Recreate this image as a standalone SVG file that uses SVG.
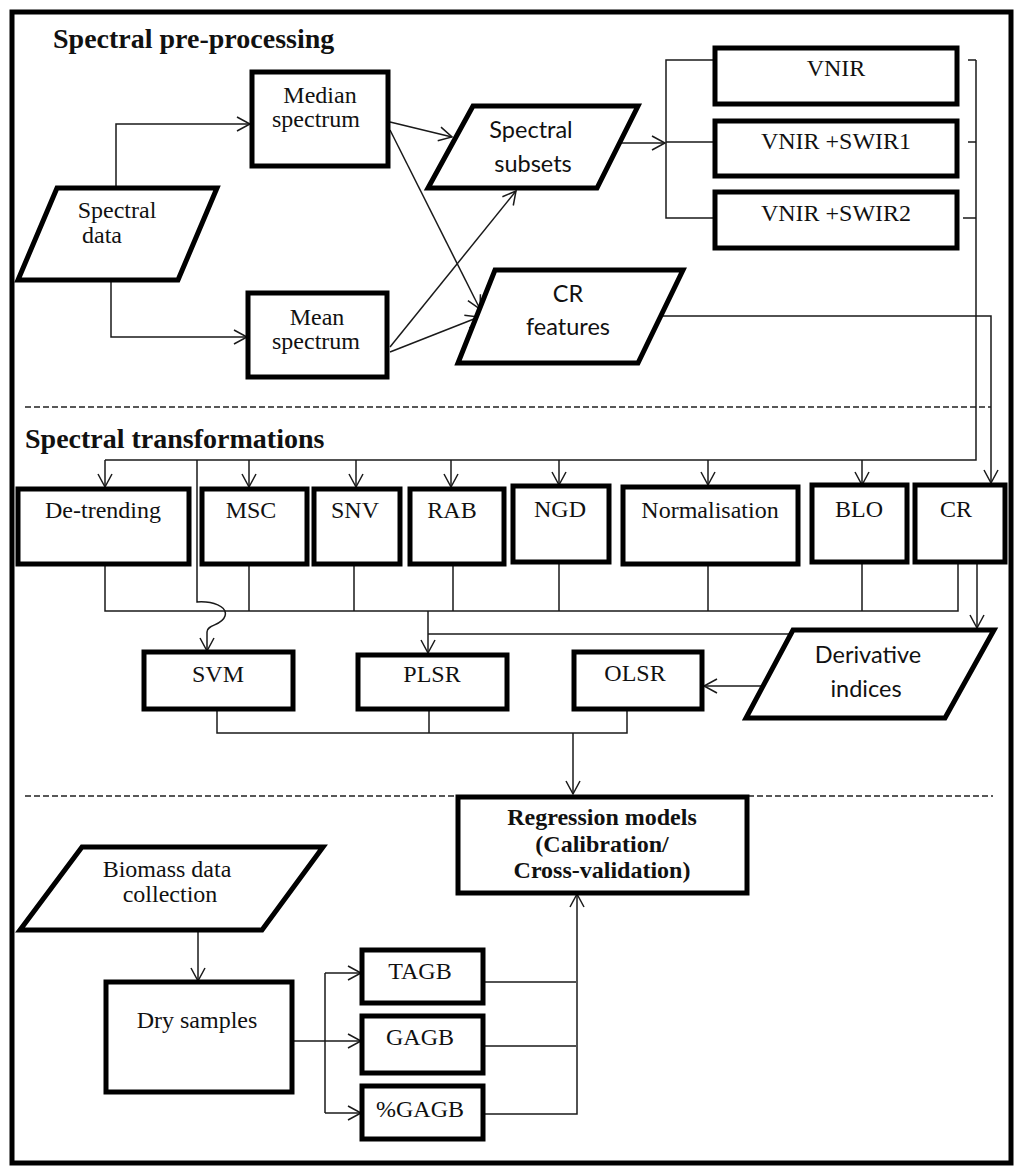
<svg xmlns="http://www.w3.org/2000/svg" width="1024" height="1174" viewBox="0 0 1024 1174">
<style>
.box{fill:#fff;stroke:#000;stroke-width:5}
.frame{fill:#fff;stroke:#000;stroke-width:5}
.c{fill:none;stroke:#1a1a1a;stroke-width:1.5}
.a{marker-end:url(#arr)}
.dash{fill:none;stroke:#222;stroke-width:1.3;stroke-dasharray:6 3}
.t{font-family:"Liberation Serif","Times New Roman",serif;font-size:24px;fill:#111;text-anchor:middle}
.s{font-family:Lato,"Liberation Sans",sans-serif;font-size:23.5px;fill:#111;text-anchor:middle}
.b{font-family:"Liberation Serif","Times New Roman",serif;font-weight:bold;fill:#111}
</style>
<defs>
<marker id="arr" markerUnits="userSpaceOnUse" markerWidth="16" markerHeight="16" viewBox="0 0 16 16" refX="14" refY="8" orient="auto">
<path d="M1,1 L14,8 L1,15" fill="none" stroke="#1a1a1a" stroke-width="1.5"/>
</marker>
</defs>
<rect class="frame" x="12" y="12" width="999" height="1151"/>

<text class="b" x="53" y="48" font-size="28">Spectral pre-processing</text>
<text class="b" x="25" y="448" font-size="28">Spectral transformations</text>

<g id="dividers">
<path class="dash" d="M25,407 H991"/>
<path class="dash" d="M25,796 H457 M748,796 H993"/>
</g>

<g id="connectors">
<path class="c a" d="M116,188 V124 H250"/>
<path class="c a" d="M111,280 V337 H247"/>
<path class="c a" d="M390,122 L452,137"/>
<path class="c a" d="M390,130 L480,309"/>
<path class="c a" d="M390,347 L516,191"/>
<path class="c a" d="M390,352 L479,317"/>
<path class="c a" d="M618,143 H665"/>
<path class="c" d="M714,60 H666 V218 H714 M666,142 H714"/>
<path class="c" d="M968,60 H976 M968,142 H976 M963,218 H976 M976,60 V460 H105"/>
<path class="c a" d="M105,460 V487"/>
<path class="c a" d="M249,460 V487"/>
<path class="c a" d="M356,460 V487"/>
<path class="c a" d="M451,460 V487"/>
<path class="c a" d="M559,460 V485"/>
<path class="c a" d="M708,460 V485"/>
<path class="c a" d="M862,460 V485"/>
<path class="c a" d="M197,460 V602 C212,601 228,606 225,616 C222,626 207,624 207,632 V651"/>
<path class="c a" d="M660,316 H991 V483"/>
<path class="c" d="M105,564 V611 H958 V562 M249,564 V611 M354,564 V611 M453,564 V611 M559,562 V611 M708,564 V611 M862,562 V611"/>
<path class="c a" d="M428,611 V653"/>
<path class="c" d="M428,634 H793"/>
<path class="c a" d="M977,562 V628"/>
<path class="c a" d="M770,686 H704"/>
<path class="c" d="M217,709 V733 H627 V709 M429,709 V733"/>
<path class="c a" d="M573,733 V794"/>
<path class="c a" d="M198,930 V981"/>
<path class="c" d="M292,1041 H325 M325,973 V1113"/>
<path class="c a" d="M325,973 H361"/>
<path class="c a" d="M325,1041 H361"/>
<path class="c a" d="M325,1113 H361"/>
<path class="c" d="M483,982 H576 M483,1046 H576"/>
<path class="c a" d="M483,1114 H577 V894"/>
</g>

<g id="spectral-data">
<polygon class="box" points="57,188 217,188 178,280 18,280"/>
<text class="t" x="117" y="218">Spectral</text>
<text class="t" x="102" y="243">data</text>
</g>
<g id="median">
<rect class="box" x="252" y="72" width="136" height="94"/>
<text class="t" x="320" y="103">Median</text>
<text class="t" x="316" y="127">spectrum</text>
</g>
<g id="mean">
<rect class="box" x="248" y="293" width="139" height="84"/>
<text class="t" x="317" y="325">Mean</text>
<text class="t" x="316" y="349">spectrum</text>
</g>
<g id="spectral-subsets">
<polygon class="box" points="473,106 638,106 597,188 428,188"/>
<text class="s" x="531" y="138">Spectral</text>
<text class="s" x="533" y="172">subsets</text>
</g>
<g id="cr-features">
<polygon class="box" points="495,270 683,270 638,363 458,363"/>
<text class="s" x="568" y="302">CR</text>
<text class="s" x="568" y="335">features</text>
</g>
<g id="vnir">
<rect class="box" x="715" y="48" width="242" height="56"/>
<text class="t" x="836" y="76">VNIR</text>
</g>
<g id="vnir-swir1">
<rect class="box" x="715" y="121" width="242" height="55"/>
<text class="t" x="836" y="149">VNIR +SWIR1</text>
</g>
<g id="vnir-swir2">
<rect class="box" x="715" y="192" width="242" height="56"/>
<text class="t" x="836" y="221">VNIR +SWIR2</text>
</g>

<g id="de-trending">
<rect class="box" x="18" y="489" width="171" height="75"/>
<text class="t" x="103" y="518">De-trending</text>
</g>
<g id="msc">
<rect class="box" x="202" y="489" width="105" height="75"/>
<text class="t" x="251" y="518">MSC</text>
</g>
<g id="snv">
<rect class="box" x="314" y="489" width="86" height="75"/>
<text class="t" x="355" y="518">SNV</text>
</g>
<g id="rab">
<rect class="box" x="410" y="489" width="94" height="75"/>
<text class="t" x="452" y="518">RAB</text>
</g>
<g id="ngd">
<rect class="box" x="513" y="486" width="96" height="76"/>
<text class="t" x="560" y="517">NGD</text>
</g>
<g id="normalisation">
<rect class="box" x="623" y="487" width="175" height="77"/>
<text class="t" x="710" y="518">Normalisation</text>
</g>
<g id="blo">
<rect class="box" x="812" y="485" width="95" height="77"/>
<text class="t" x="859" y="517">BLO</text>
</g>
<g id="cr">
<rect class="box" x="915" y="485" width="90" height="77"/>
<text class="t" x="956" y="517">CR</text>
</g>

<g id="svm">
<rect class="box" x="144" y="652" width="149" height="57"/>
<text class="t" x="218" y="682">SVM</text>
</g>
<g id="plsr">
<rect class="box" x="358" y="655" width="149" height="54"/>
<text class="t" x="432" y="682">PLSR</text>
</g>
<g id="olsr">
<rect class="box" x="574" y="652" width="128" height="57"/>
<text class="t" x="635" y="681">OLSR</text>
</g>
<g id="derivative-indices">
<polygon class="box" points="793,630 994,630 945,718 746,718"/>
<text class="s" x="868" y="663">Derivative</text>
<text class="s" x="866" y="697">indices</text>
</g>

<g id="regression">
<rect class="box" x="458" y="797" width="289" height="96"/>
<text class="b" x="602" y="825" font-size="24" text-anchor="middle">Regression models</text>
<text class="b" x="602" y="852" font-size="24" text-anchor="middle">(Calibration/</text>
<text class="b" x="602" y="878" font-size="24" text-anchor="middle">Cross-validation)</text>
</g>
<g id="biomass">
<polygon class="box" points="82,847 323,847 262,930 20,930"/>
<text class="t" x="167" y="877">Biomass data</text>
<text class="t" x="170" y="902">collection</text>
</g>
<g id="dry-samples">
<rect class="box" x="106" y="982" width="186" height="110"/>
<text class="t" x="197" y="1028">Dry samples</text>
</g>
<g id="tagb">
<rect class="box" x="362" y="950" width="121" height="53"/>
<text class="t" x="420" y="979">TAGB</text>
</g>
<g id="gagb">
<rect class="box" x="362" y="1016" width="121" height="57"/>
<text class="t" x="420" y="1045">GAGB</text>
</g>
<g id="pgagb">
<rect class="box" x="362" y="1086" width="121" height="53"/>
<text class="t" x="420" y="1117">%GAGB</text>
</g>
</svg>
